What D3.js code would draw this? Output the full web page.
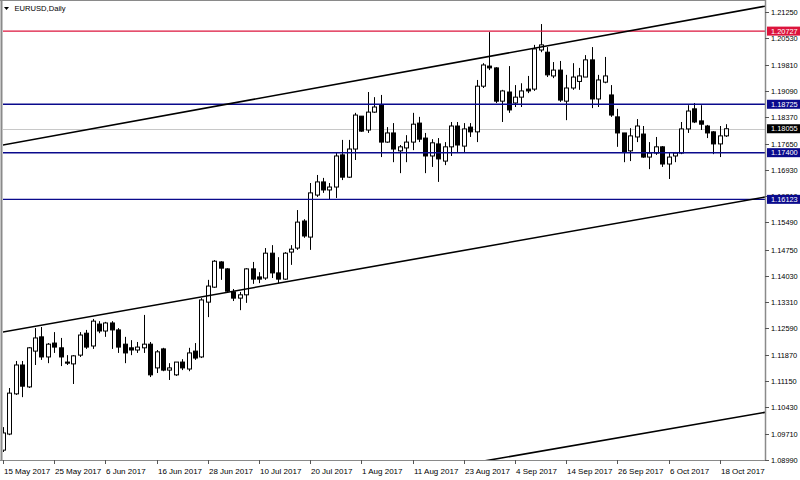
<!DOCTYPE html>
<html><head><meta charset="utf-8">
<script src="https://cdn.jsdelivr.net/npm/d3@7/dist/d3.min.js"></script>
<style>html,body{margin:0;padding:0;background:#fff}svg{display:block}</style>
</head><body>
<svg id="chart" width="800" height="480"></svg>
<script>
// ---- data ----
const symbolTitle = "EURUSD,Daily";
const openP  = [1.0926,1.0970,1.1080,1.1159,1.1099,1.1197,1.1236,1.1181,1.1219,1.1206,1.1167,1.1162,1.1186,1.1246,1.1211,1.1271,1.1252,1.1274,1.1255,1.1216,1.1206,1.1200,1.1206,1.1216,1.1151,1.1203,1.1145,1.1132,1.1167,1.1148,1.1197,1.1181,1.1331,1.1372,1.1441,1.1422,1.1359,1.1342,1.1351,1.1422,1.1400,1.1397,1.1465,1.1411,1.1394,1.1468,1.1479,1.1553,1.1509,1.1624,1.1660,1.1638,1.1646,1.1734,1.1673,1.1750,1.1840,1.1802,1.1851,1.1870,1.1769,1.1794,1.1745,1.1753,1.1769,1.1821,1.1780,1.1731,1.1764,1.1717,1.1756,1.1813,1.1758,1.1810,1.1797,1.1922,1.1977,1.1972,1.1881,1.1906,1.1876,1.1892,1.1914,1.1914,1.2021,1.2015,1.1950,1.1966,1.1881,1.1917,1.1935,1.1947,1.1994,1.1887,1.1933,1.1898,1.1838,1.1794,1.1745,1.1783,1.1791,1.1728,1.1739,1.1756,1.1709,1.1731,1.1739,1.1805,1.1860,1.1827,1.1813,1.1797,1.1764,1.1786];
const highP  = [1.0989,1.1096,1.1170,1.1170,1.1208,1.1260,1.1263,1.1219,1.1249,1.1233,1.1186,1.1186,1.1249,1.1255,1.1285,1.1279,1.1277,1.1279,1.1260,1.1236,1.1227,1.1222,1.1296,1.1222,1.1200,1.1206,1.1164,1.1167,1.1175,1.1206,1.1219,1.1342,1.1392,1.1446,1.1443,1.1424,1.1367,1.1359,1.1424,1.1441,1.1413,1.1479,1.1487,1.1454,1.1468,1.1487,1.1583,1.1558,1.1657,1.1679,1.1671,1.1657,1.1739,1.1775,1.1775,1.1849,1.1840,1.1906,1.1892,1.1898,1.1810,1.1821,1.1761,1.1788,1.1849,1.1838,1.1794,1.1777,1.1780,1.1769,1.1824,1.1824,1.1821,1.1821,1.1939,1.1985,1.2070,1.1974,1.1912,1.1977,1.1925,1.1930,1.1950,1.2035,1.2092,1.2029,1.1988,1.1991,1.1953,1.1985,1.1972,1.2007,1.2029,1.1953,1.2002,1.1925,1.1860,1.1794,1.1807,1.1832,1.1813,1.1769,1.1783,1.1758,1.1739,1.1742,1.1824,1.1870,1.1876,1.1870,1.1816,1.1799,1.1813,1.1818];
const lowP   = [1.0921,1.0967,1.1077,1.1071,1.1096,1.1159,1.1173,1.1164,1.1192,1.1156,1.1159,1.1107,1.1181,1.1203,1.1203,1.1246,1.1236,1.1203,1.1192,1.1164,1.1186,1.1192,1.1192,1.1126,1.1137,1.1142,1.1118,1.1129,1.1145,1.1142,1.1173,1.1178,1.1290,1.1370,1.1392,1.1356,1.1334,1.1309,1.1329,1.1381,1.1383,1.1392,1.1397,1.1383,1.1392,1.1433,1.1474,1.1507,1.1474,1.1619,1.1630,1.1611,1.1616,1.1665,1.1671,1.1720,1.1797,1.1794,1.1849,1.1728,1.1767,1.1714,1.1684,1.1714,1.1747,1.1769,1.1684,1.1701,1.1660,1.1706,1.1731,1.1742,1.1742,1.1783,1.1769,1.1917,1.1966,1.1876,1.1824,1.1849,1.1865,1.1865,1.1903,1.1909,1.2015,1.1947,1.1944,1.1879,1.1829,1.1912,1.1912,1.1947,1.1862,1.1865,1.1930,1.1838,1.1756,1.1714,1.1717,1.1769,1.1726,1.1695,1.1734,1.1701,1.1668,1.1714,1.1736,1.1794,1.1821,1.1802,1.1780,1.1736,1.1728,1.1783];
const closeP = [1.0973,1.1082,1.1159,1.1101,1.1206,1.1233,1.1181,1.1216,1.1208,1.1181,1.1164,1.1184,1.1241,1.1208,1.1279,1.1252,1.1274,1.1255,1.1208,1.1192,1.1200,1.1208,1.1216,1.1132,1.1195,1.1145,1.1151,1.1167,1.1151,1.1192,1.1178,1.1337,1.1375,1.1443,1.1424,1.1361,1.1342,1.1351,1.1422,1.1394,1.1394,1.1465,1.1411,1.1394,1.1465,1.1476,1.1550,1.1512,1.1630,1.1660,1.1638,1.1646,1.1731,1.1673,1.1750,1.1843,1.1799,1.1851,1.1865,1.1769,1.1794,1.1750,1.1756,1.1769,1.1818,1.1777,1.1731,1.1767,1.1723,1.1756,1.1813,1.1761,1.1805,1.1797,1.1922,1.1980,1.1972,1.1881,1.1909,1.1857,1.1892,1.1909,1.1909,1.2024,1.2035,1.1953,1.1966,1.1884,1.1917,1.1947,1.1950,1.1994,1.1887,1.1939,1.1950,1.1843,1.1794,1.1742,1.1786,1.1813,1.1728,1.1739,1.1756,1.1709,1.1728,1.1739,1.1805,1.1854,1.1824,1.1818,1.1794,1.1764,1.1786,1.18055];

const timeTickBars   = [0,8,16,24,32,40,48,56,64,72,80,88,96,104,112];
const timeTickLabels = ["15 May 2017","25 May 2017","6 Jun 2017","16 Jun 2017","28 Jun 2017","10 Jul 2017","20 Jul 2017","1 Aug 2017","11 Aug 2017","23 Aug 2017","4 Sep 2017","14 Sep 2017","26 Sep 2017","6 Oct 2017","18 Oct 2017"];
const priceTicks = [1.21250,1.20530,1.19810,1.19090,1.18370,1.17650,1.16930,1.16210,1.15490,1.14750,1.14030,1.13310,1.12590,1.11870,1.11150,1.10430,1.09710,1.08990];

const levelPrices = [1.20727, 1.18725, 1.17400, 1.16123];
const currentPrice = 1.18055;

// trend lines: [bar, price] anchor pairs
const trendUpper  = [[0, 1.17612], [113, 1.21216]];
const trendMiddle = [[0, 1.12493], [113, 1.15998]];
const trendLower  = [[80, 1.09110], [113, 1.10111]];

// ---- layout ----
const W = 800, H = 480;
const plotL = 2, plotR = 765, plotT = 1, plotB = 460;
const svg = d3.select("#chart");
const FONT = "'Liberation Sans', Arial, sans-serif";

const x = d3.scaleLinear().domain([0, 113]).range([3, 726.2]);
const y = d3.scaleLinear().domain([1.0899, 1.2125]).range([460, 12]);

svg.append("rect").attr("width", W).attr("height", H).attr("fill", "#fff");

svg.append("defs").append("clipPath").attr("id", "plotclip")
  .append("rect").attr("x", plotL + 1).attr("y", plotT + 1)
  .attr("width", plotR - plotL - 1).attr("height", plotB - plotT - 1);

const plot = svg.append("g").attr("clip-path", "url(#plotclip)");

// current price line (light gray)
plot.append("line")
  .attr("x1", plotL).attr("x2", plotR)
  .attr("y1", Math.round(y(currentPrice)) + 0.5).attr("y2", Math.round(y(currentPrice)) + 0.5)
  .attr("stroke", "#c8c8c8").attr("stroke-width", 1);

// candles
const bars = d3.range(openP.length).map(i => ({i, o: openP[i], h: highP[i], l: lowP[i], c: closeP[i]}));
const cg = plot.append("g");
bars.forEach(d => {
  const cx = Math.round(x(d.i)) + 0.5;
  cg.append("line").attr("x1", cx).attr("x2", cx)
    .attr("y1", y(d.h)).attr("y2", y(d.l))
    .attr("stroke", "#000").attr("stroke-width", 1);
  const top = Math.min(y(d.o), y(d.c)), bot = Math.max(y(d.o), y(d.c));
  const up = d.c >= d.o;
  cg.append("rect")
    .attr("x", cx - 2).attr("y", top)
    .attr("width", 4).attr("height", Math.max(bot - top, 1))
    .attr("fill", up ? "#fff" : "#000")
    .attr("stroke", "#000").attr("stroke-width", 1);
});

// horizontal levels
const levelColors = ["#dc143c", "#0a0a8c", "#0a0a8c", "#0a0a8c"];
levelPrices.forEach((p, k) => {
  plot.append("line").attr("x1", plotL).attr("x2", plotR)
    .attr("y1", y(p)).attr("y2", y(p))
    .attr("stroke", levelColors[k]).attr("stroke-width", 1.4);
});

// trend lines extended across the plot
function drawTrend(pts) {
  const [[b1, p1], [b2, p2]] = pts;
  const slope = (p2 - p1) / (b2 - b1);
  const bL = x.invert(plotL), bR = x.invert(plotR);
  plot.append("line")
    .attr("x1", x(bL)).attr("y1", y(p1 + slope * (bL - b1)))
    .attr("x2", x(bR)).attr("y2", y(p1 + slope * (bR - b1)))
    .attr("stroke", "#000").attr("stroke-width", 1.6);
}
[trendUpper, trendMiddle, trendLower].forEach(drawTrend);

// frame
const frame = svg.append("g").attr("stroke", "#8a8a8a").attr("fill", "none");
frame.append("line").attr("x1", 1.5).attr("x2", 1.5).attr("y1", 0).attr("y2", plotB + 0.5).attr("stroke-width", 2);
frame.append("line").attr("x1", 0).attr("x2", plotR).attr("y1", 0.5).attr("y2", 0.5);
frame.append("line").attr("x1", plotR + 0.5).attr("x2", plotR + 0.5).attr("y1", 0).attr("y2", plotB + 1).attr("stroke-width", 1.5);
frame.append("line").attr("x1", 0).attr("x2", plotR + 1).attr("y1", plotB + 0.5).attr("y2", plotB + 0.5);

// price axis
const pa = svg.append("g");
priceTicks.forEach(p => {
  const yy = Math.round(y(p)) + 0.5;
  pa.append("line").attr("x1", plotR).attr("x2", plotR + 4).attr("y1", yy).attr("y2", yy).attr("stroke", "#555");
  pa.append("text").attr("x", 771).attr("y", yy).attr("dy", "0.35em")
    .attr("font-family", FONT).attr("font-size", 7.4).attr("fill", "#000").text(p.toFixed(5));
});

// level labels
function priceBox(p, bg) {
  const yy = y(p);
  pa.append("rect").attr("x", 767).attr("y", yy - 4.5).attr("width", 33).attr("height", 9).attr("fill", bg);
  pa.append("text").attr("x", 771).attr("y", yy).attr("dy", "0.35em")
    .attr("font-family", FONT).attr("font-size", 7.4).attr("fill", "#fff").text(p.toFixed(5));
}
levelPrices.forEach((p, k) => priceBox(p, levelColors[k]));
priceBox(currentPrice, "#000");

// time axis
const ta = svg.append("g");
timeTickBars.forEach((b, k) => {
  const xx = Math.round(x(b)) + 0.5;
  ta.append("line").attr("x1", xx).attr("x2", xx).attr("y1", plotB).attr("y2", plotB + 4).attr("stroke", "#555");
  ta.append("text").attr("x", xx + 0.5).attr("y", 474)
    .attr("font-family", FONT).attr("font-size", 8).attr("fill", "#000").text(timeTickLabels[k]);
});

// title
svg.append("path").attr("d", "M4,7 L9,7 L6.5,10 Z").attr("fill", "#000");
svg.append("text").attr("x", 14.5).attr("y", 11).attr("font-family", FONT).attr("font-size", 7.6)
  .attr("fill", "#000").text(symbolTitle);
</script>
</body></html>
